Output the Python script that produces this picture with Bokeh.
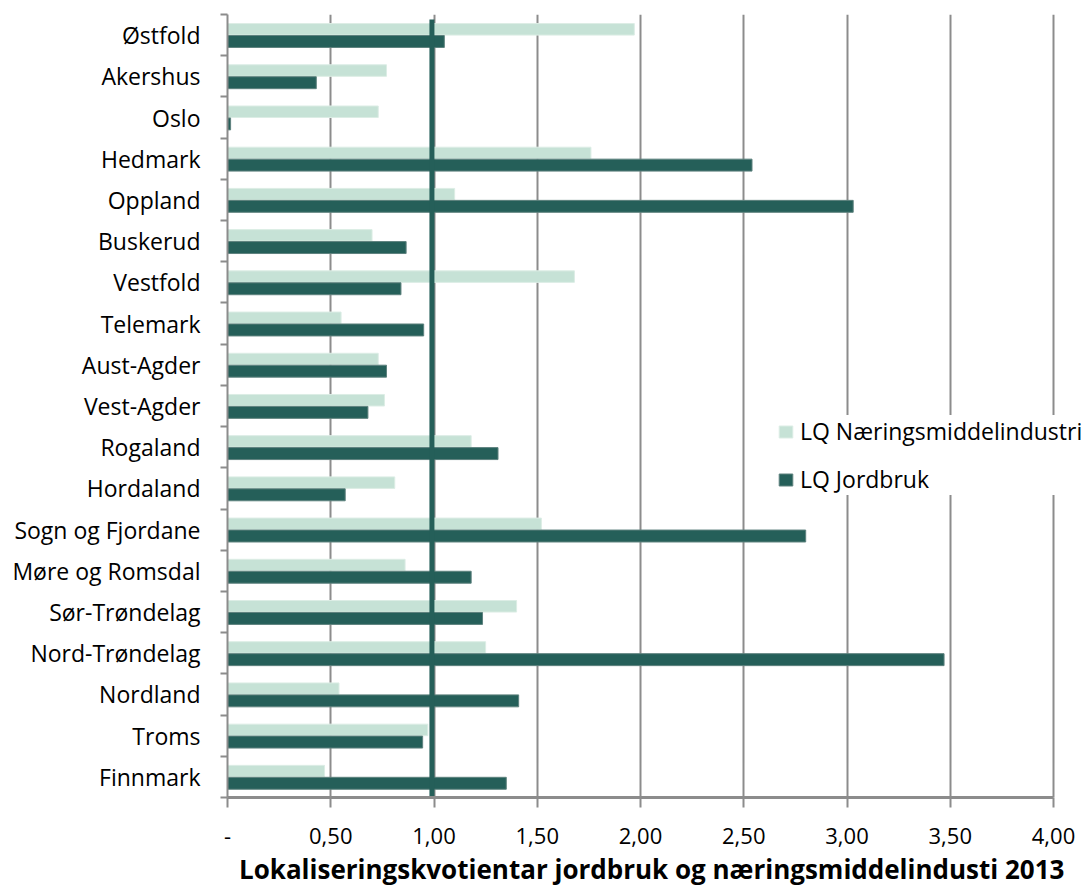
from bokeh.plotting import figure
from bokeh.models import (ColumnDataSource, FixedTicker, CustomJSTickFormatter,
                          Legend, LegendItem)
from bokeh.embed import file_html
from bokeh.resources import INLINE

# ---- data (top to bottom as in the chart) ----
counties = ["Østfold", "Akershus", "Oslo", "Hedmark", "Oppland", "Buskerud",
            "Vestfold", "Telemark", "Aust-Agder", "Vest-Agder", "Rogaland",
            "Hordaland", "Sogn og Fjordane", "Møre og Romsdal", "Sør-Trøndelag",
            "Nord-Trøndelag", "Nordland", "Troms", "Finnmark"]
lq_naering = [1.97, 0.77, 0.73, 1.76, 1.10, 0.70, 1.68, 0.55, 0.73, 0.76,
              1.18, 0.81, 1.52, 0.86, 1.40, 1.25, 0.54, 0.97, 0.47]
lq_jordbruk = [1.05, 0.43, 0.015, 2.54, 3.03, 0.865, 0.84, 0.95, 0.77, 0.68,
               1.31, 0.57, 2.80, 1.18, 1.235, 3.47, 1.41, 0.945, 1.35]
ref_value = 0.99
x_ticks = [0, 0.5, 1.0, 1.5, 2.0, 2.5, 3.0, 3.5, 4.0]
series_names = ["LQ Næringsmiddelindustri", "LQ Jordbruk"]
x_title = "Lokaliseringskvotientar  jordbruk og næringsmiddelindusti  2013"

LIGHT = "#C6E2D6"
DARK = "#255F59"
GRID = "#8C8C8C"
FONT = "Open Sans"

n = len(counties)
ypos = [n - 1 - i for i in range(n)]
src = ColumnDataSource(dict(
    y_light=[y + 0.14 for y in ypos],
    y_dark=[y - 0.155 for y in ypos],
    naering=lq_naering,
    jordbruk=lq_jordbruk,
))

# frame spans to the right page edge so the legend is not clipped;
# axis and grid are bounded to 0..4
W, LEFT = 1089, 227
axis_px = 826
x_max = x_ticks[-1]
x_end = x_max * (W - LEFT) / axis_px

p = figure(width=W, height=889, output_backend="svg", toolbar_location=None,
           x_range=(0, x_end), y_range=(-0.5, n - 0.5),
           min_border_left=LEFT, min_border_right=0, min_border_top=14,
           min_border_bottom=89)
p.outline_line_color = None
p.background_fill_color = "white"
p.border_fill_color = "white"

r_light = p.hbar(y="y_light", left=0, right="naering", height=0.28, source=src,
                 fill_color=LIGHT, line_color="#DCEDE5", line_width=1)
r_dark = p.hbar(y="y_dark", left=0, right="jordbruk", height=0.29, source=src,
                fill_color=DARK, line_color="#5E827E", line_width=1)

# reference line at LQ = 1
ref_src = ColumnDataSource(dict(x=[ref_value], y0=[-0.5], y1=[n - 1 + 0.38]))
p.segment(x0="x", x1="x", y0="y0", y1="y1", source=ref_src,
          line_color=DARK, line_width=5)

# x axis
xt = FixedTicker(ticks=x_ticks)
p.xaxis.bounds = (0, x_max)
p.xaxis.ticker = xt
p.xaxis.formatter = CustomJSTickFormatter(
    code='return Math.abs(tick) < 1e-9 ? "-" : tick.toFixed(2).replace(".", ",");')
p.xaxis.axis_line_color = GRID
p.xaxis.axis_line_width = 3
p.xaxis.major_tick_line_color = GRID
p.xaxis.major_tick_line_width = 2
p.xaxis.major_tick_out = 10
p.xaxis.major_tick_in = 0
p.xaxis.minor_tick_line_color = None
p.xaxis.minor_tick_out = 0
p.xaxis.major_label_text_font = FONT
p.xaxis.major_label_text_font_size = "22px"
p.xaxis.major_label_text_color = "black"
p.xaxis.major_label_standoff = 20
p.xaxis.axis_label = x_title
p.xaxis.axis_label_text_font = FONT
p.xaxis.axis_label_text_font_style = "bold"
p.xaxis.axis_label_text_font_size = "26px"
p.xaxis.axis_label_text_color = "black"
p.xaxis.axis_label_standoff = 4

p.xgrid.ticker = xt
p.xgrid.bounds = (0, x_max)
p.xgrid.grid_line_color = GRID
p.xgrid.grid_line_width = 2
p.ygrid.grid_line_color = None

# y axis: labels at centres, tick marks at category boundaries
labels_by_pos = list(reversed(counties))
p.yaxis.ticker = FixedTicker(ticks=ypos,
                             minor_ticks=[i - 0.5 for i in range(n + 1)])
p.yaxis.formatter = CustomJSTickFormatter(
    args=dict(names=labels_by_pos),
    code="const i = Math.round(tick); return names[i] || '';")
p.yaxis.axis_line_color = GRID
p.yaxis.axis_line_width = 2
p.yaxis.major_tick_line_color = None
p.yaxis.major_tick_out = 0
p.yaxis.major_tick_in = 0
p.yaxis.minor_tick_line_color = GRID
p.yaxis.minor_tick_line_width = 2
p.yaxis.minor_tick_out = 7
p.yaxis.minor_tick_in = 0
p.yaxis.major_label_text_font = FONT
p.yaxis.major_label_text_font_size = "23px"
p.yaxis.major_label_text_color = "black"
p.yaxis.major_label_standoff = 20

legend = Legend(items=[LegendItem(label=series_names[0], renderers=[r_light]),
                       LegendItem(label=series_names[1], renderers=[r_dark])],
                location=(550, 302))
legend.label_text_font = FONT
legend.label_text_font_size = "23px"
legend.label_text_color = "black"
legend.glyph_width = 17
legend.glyph_height = 15
legend.label_height = 26
legend.spacing = 16
legend.padding = 10
legend.margin = 0
legend.label_standoff = 6
legend.border_line_color = None
legend.background_fill_color = "white"
legend.background_fill_alpha = 1
p.add_layout(legend)

open("out.html", "w").write(file_html(p, INLINE))
